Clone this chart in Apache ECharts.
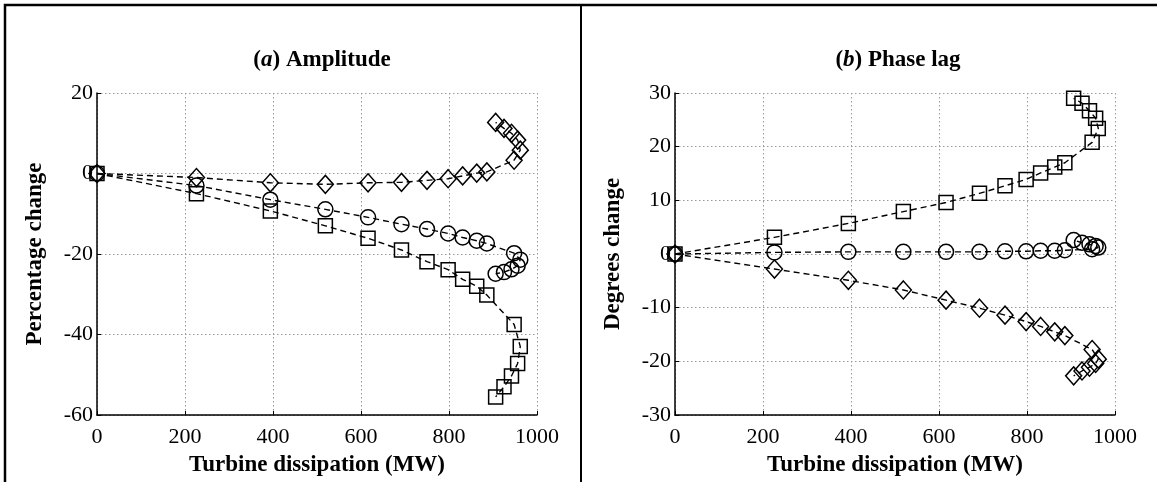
<!DOCTYPE html>
<html>
<head>
<meta charset="utf-8">
<script src="https://cdn.jsdelivr.net/npm/echarts@6/dist/echarts.min.js"></script>
<style>
html,body{margin:0;padding:0;background:#fff;}
#chart{width:1157px;height:482px;}
</style>
</head>
<body>
<div id="chart"></div>
<script>
// Shared turbine dissipation (MW) for each operating point
const dissipation = [0, 226, 394, 519, 616, 692, 750, 798, 831, 863, 886, 948, 962, 956, 942, 925, 906];

// (a) Amplitude, percentage change
const ampSquares  = [0, -5.0, -9.3, -13.0, -16.1, -19.0, -21.9, -23.9, -26.3, -28.0, -30.2, -37.5, -43.0, -47.2, -50.3, -53.0, -55.5];
const ampCircles  = [0, -3.0, -6.5, -8.9, -10.9, -12.6, -13.8, -14.9, -15.9, -16.7, -17.4, -19.8, -21.4, -22.9, -23.8, -24.5, -24.9];
const ampDiamonds = [0, -1.0, -2.3, -2.7, -2.3, -2.2, -1.7, -1.3, -0.6, 0.1, 0.4, 3.3, 5.8, 8.3, 10.0, 11.2, 12.7];

// (b) Phase lag, degrees change
const phaseSquares  = [0, 3.1, 5.7, 7.9, 9.6, 11.3, 12.7, 13.9, 15.1, 16.2, 17.0, 20.8, 23.4, 25.3, 26.7, 28.1, 29.0];
const phaseCircles  = [0, 0.3, 0.4, 0.4, 0.4, 0.4, 0.5, 0.5, 0.6, 0.6, 0.7, 0.9, 1.2, 1.5, 1.8, 2.1, 2.6];
const phaseDiamonds = [0, -2.8, -4.9, -6.7, -8.6, -10.1, -11.4, -12.6, -13.5, -14.5, -15.2, -17.8, -19.6, -20.4, -21.1, -21.8, -22.7];

const xTicks = [0, 200, 400, 600, 800, 1000];
const ampTicks = [-60, -40, -20, 0, 20];
const phaseTicks = [-30, -20, -10, 0, 10, 20, 30];

const FONT = '"Liberation Serif", "DejaVu Serif", serif';

function pairs(ys) { return dissipation.map((x, i) => [x, ys[i]]); }

function xAxisCfg(gi) {
  return {
    gridIndex: gi, type: 'value',
    min: xTicks[0], max: xTicks[xTicks.length - 1], interval: xTicks[1] - xTicks[0],
    name: 'Turbine dissipation (MW)', nameLocation: 'middle', nameGap: 39,
    nameTextStyle: {fontFamily: FONT, fontWeight: 'bold', fontSize: 23, color: '#000'},
    axisLine: {onZero: false, lineStyle: {color: '#000', width: 1.5}},
    axisTick: {inside: true, length: 4, lineStyle: {color: '#000'}},
    axisLabel: {fontFamily: FONT, fontSize: 22, color: '#000', margin: 11,
                formatter: v => String(v)},
    splitLine: {show: true, lineStyle: {type: [1.5, 2.5], color: '#999', width: 1}}
  };
}
function yAxisCfg(gi, ticks, name) {
  return {
    gridIndex: gi, type: 'value',
    min: ticks[0], max: ticks[ticks.length - 1], interval: ticks[1] - ticks[0],
    name: name, nameLocation: 'middle', nameGap: 50, nameRotate: 90,
    nameTextStyle: {fontFamily: FONT, fontWeight: 'bold', fontSize: 23, color: '#000'},
    axisLine: {show: true, onZero: false, lineStyle: {color: '#000', width: 1.5}},
    axisTick: {show: true, inside: true, length: 4, lineStyle: {color: '#000'}},
    axisLabel: {fontFamily: FONT, fontSize: 22, color: '#000', margin: 4,
                formatter: v => String(v)},
    splitLine: {show: true, lineStyle: {type: [1.5, 2.5], color: '#999', width: 1}}
  };
}
function seriesCfg(xi, ys, symbol, size) {
  return {
    type: 'line', xAxisIndex: xi, yAxisIndex: xi,
    data: pairs(ys), symbol: symbol, symbolSize: size, showAllSymbol: true,
    lineStyle: {color: '#000', width: 1.4, type: [6, 4]},
    itemStyle: {color: 'rgba(255,255,255,0)', borderColor: '#000', borderWidth: 1.5},
    animation: false, z: 3
  };
}

const titleRich = {
  n: {fontFamily: FONT, fontWeight: 'bold', fontSize: 23, color: '#000'},
  i: {fontFamily: FONT, fontWeight: 'bold', fontStyle: 'italic', fontSize: 23, color: '#000'}
};

const chart = echarts.init(document.getElementById('chart'), null, {renderer: 'canvas'});
chart.setOption({
  backgroundColor: '#fff',
  animation: false,
  title: [
    {text: '{n|(}{i|a}{n|) Amplitude}', left: 317, top: 44, textAlign: 'center',
     textStyle: {rich: titleRich}},
    {text: '{n|(}{i|b}{n|) Phase lag}', left: 893, top: 44, textAlign: 'center',
     textStyle: {rich: titleRich}}
  ],
  grid: [
    {left: 97, right: 620, top: 93, bottom: 67},
    {left: 675, right: 42, top: 93, bottom: 67}
  ],
  xAxis: [xAxisCfg(0), xAxisCfg(1)],
  yAxis: [yAxisCfg(0, ampTicks, 'Percentage change'), yAxisCfg(1, phaseTicks, 'Degrees change')],
  series: [
    seriesCfg(0, ampSquares, 'rect', 14),
    seriesCfg(0, ampCircles, 'circle', 15),
    seriesCfg(0, ampDiamonds, 'diamond', [16, 18]),
    seriesCfg(1, phaseSquares, 'rect', 14),
    seriesCfg(1, phaseCircles, 'circle', 15),
    seriesCfg(1, phaseDiamonds, 'diamond', [16, 18])
  ],
  graphic: [
    {type: 'polyline', silent: true, z: 10,
     shape: {points: [[5, 490], [5, 5], [1157, 5]]},
     style: {stroke: '#000', lineWidth: 2.5, fill: null}},
    {type: 'line', silent: true, z: 10,
     shape: {x1: 581, y1: 5, x2: 581, y2: 490},
     style: {stroke: '#000', lineWidth: 2}}
  ]
});
</script>
</body>
</html>
